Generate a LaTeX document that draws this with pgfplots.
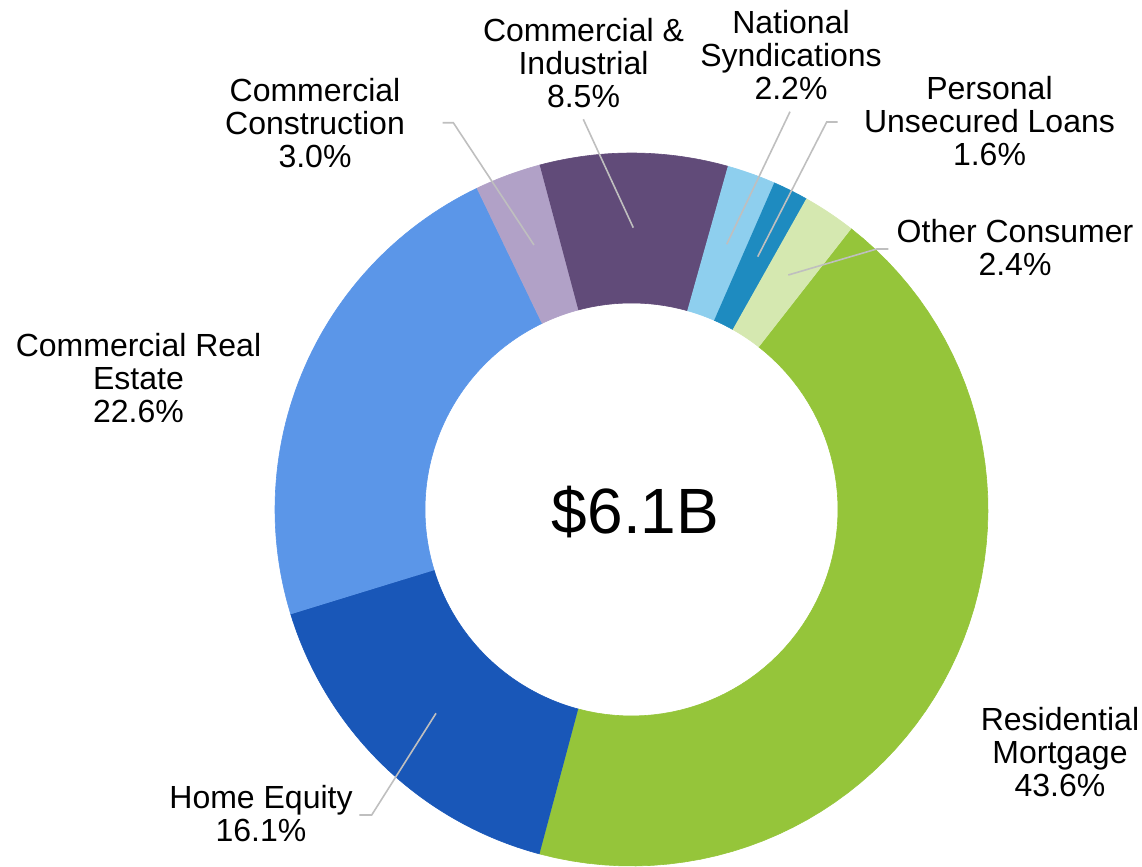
\documentclass[border=0pt]{standalone}
\usepackage{fontspec}
\setmainfont{Liberation Sans}
\usepackage{pgfplots}
\pgfplotsset{compat=1.18}

\definecolor{resmort}{HTML}{95C53A}
\definecolor{homeeq}{HTML}{1957B8}
\definecolor{cre}{HTML}{5B96E8}
\definecolor{ccons}{HTML}{B1A1C7}
\definecolor{cni}{HTML}{614B79}
\definecolor{natsyn}{HTML}{8ECFEE}
\definecolor{persun}{HTML}{1E8BC0}
\definecolor{othcon}{HTML}{D5E8B0}
\definecolor{leader}{HTML}{BFBFBF}

% donut geometry in pixel units of the 1142x866 frame
\def\cx{631.5}\def\cy{509.5}
\def\Ro{356.5}\def\Ri{206.5}
\def\cum{0}

% one ring segment: #1 = share in %, #2 = colour
\newcommand\slice[2]{%
  \pgfmathsetmacro\sa{38+3.6*\cum}%
  \pgfmathsetmacro\sb{38+3.6*(\cum+#1)}%
  \pgfmathsetmacro\newcum{\cum+#1}%
  \global\let\cum\newcum
  \edef\temp{\noexpand\addplot[fill=#2, draw=#2, line width=0.3pt,
      domain=0:3, samples=181]
    ({\cx+(x<=1 ? \Ro : (x<=2 ? \Ro-(\Ro-\Ri)*(x-1) : \Ri))*sin(\sa+(\sb-\sa)*(x<=2 ? min(x,1) : 3-x))},
     {\cy-(x<=1 ? \Ro : (x<=2 ? \Ro-(\Ro-\Ri)*(x-1) : \Ri))*cos(\sa+(\sb-\sa)*(x<=2 ? min(x,1) : 3-x))});}%
  \temp}

\begin{document}
\begin{tikzpicture}[
  lbl/.style={font=\fontsize{16}{16.5}\selectfont, align=center, inner sep=0pt},
  ldr/.style={color=leader, line width=0.8pt},
]
\begin{axis}[
  scale only axis,
  width=571pt, height=433pt,
  xmin=0, xmax=1142, ymin=0, ymax=866,
  y dir=reverse,
  hide axis, clip=false,
]
\path (rel axis cs:0,0) rectangle (rel axis cs:1,1);

\slice{43.6}{resmort}
\slice{16.1}{homeeq}
\slice{22.6}{cre}
\slice{3.0}{ccons}
\slice{8.5}{cni}
\slice{2.2}{natsyn}
\slice{1.6}{persun}
\slice{2.4}{othcon}

% leader lines
\addplot[ldr, no marks] coordinates {(442.7,122.7)(453.3,122.7)(534,245)};
\addplot[ldr, no marks] coordinates {(583.3,119.3)(633.3,227.7)};
\addplot[ldr, no marks] coordinates {(790,111.7)(726.7,244.3)};
\addplot[ldr, no marks] coordinates {(837.7,122)(826.7,122)(757.7,256.7)};
\addplot[ldr, no marks] coordinates {(888.3,249)(876.7,249)(788.3,275)};
\addplot[ldr, no marks] coordinates {(436,713.3)(371.7,815)(359.3,815)};

% labels
\node[lbl] at (axis cs:583.5,63.5) {Commercial \&\\Industrial\\8.5\%};
\node[lbl] at (axis cs:791,55) {National\\Syndications\\2.2\%};
\node[lbl] at (axis cs:989.5,121) {Personal\\Unsecured Loans\\1.6\%};
\node[lbl] at (axis cs:1015,247.5) {Other Consumer\\2.4\%};
\node[lbl] at (axis cs:315,123) {Commercial\\Construction\\3.0\%};
\node[lbl] at (axis cs:138.5,378) {Commercial Real\\Estate\\22.6\%};
\node[lbl] at (axis cs:261,814) {Home Equity\\16.1\%};
\node[lbl] at (axis cs:1060,752.5) {Residential\\Mortgage\\43.6\%};
\node[font=\fontsize{32}{34}\selectfont, inner sep=0pt] at (axis cs:635.5,512) {\$6.1B};
\end{axis}
\end{tikzpicture}
\end{document}
